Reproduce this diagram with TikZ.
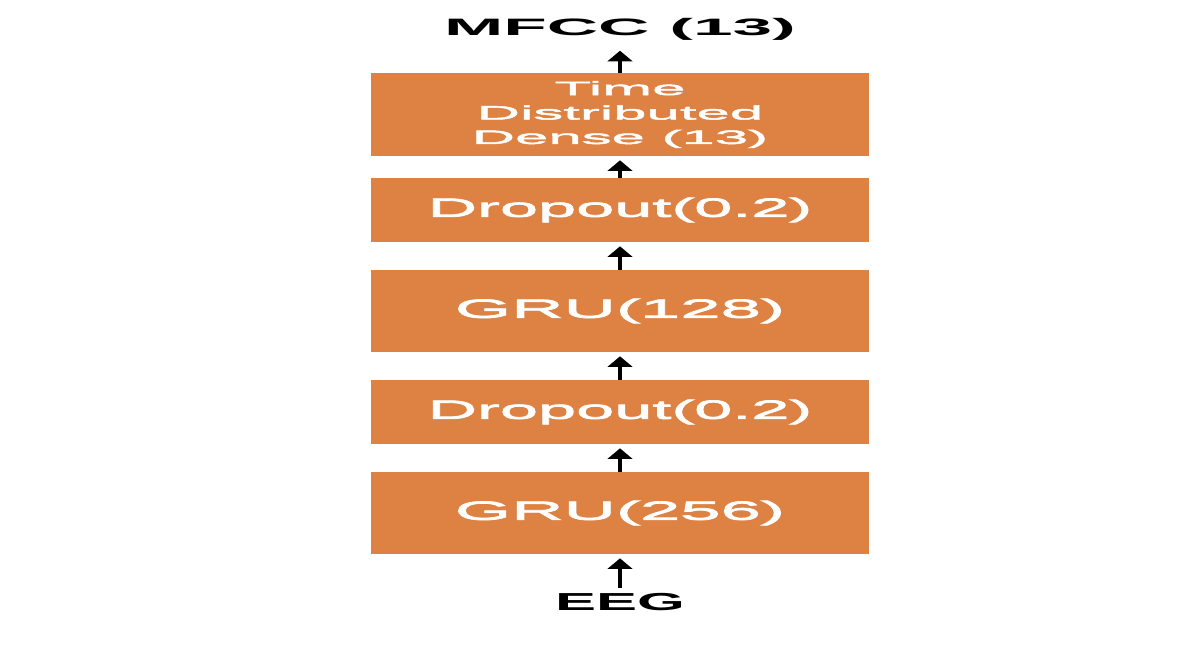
\documentclass[tikz,border=0pt]{standalone}
\usepackage{fontspec}
\usepackage{tikz}
\usetikzlibrary{positioning, arrows.meta}
\newfontfamily\grufont[FakeStretch=2.75, FakeBold=3]{Liberation Sans}
\newfontfamily\dropfont[FakeStretch=2.6, FakeBold=3]{Liberation Sans}
\newfontfamily\densefont[FakeStretch=3.1, FakeBold=2.5]{Liberation Sans}
\newfontfamily\tagfont[FakeStretch=3.0]{Liberation Sans Bold}
\newfontfamily\eegfont[FakeStretch=2.5]{Liberation Sans Bold}
\definecolor{layerorange}{RGB}{222,130,68}
\tikzstyle{arrow} = [line width=2pt,-{Triangle[width=14pt,length=6pt]},shorten >=0.08cm]
\tikzstyle{layer} = [rectangle, minimum width=9.96cm, minimum height=1.64cm, text centered, fill=layerorange, text=white, inner sep=0pt, font=\grufont\fontsize{15pt}{17pt}\selectfont]
\tikzstyle{thin layer} = [layer, minimum height=1.28cm, font=\dropfont\fontsize{15pt}{17pt}\selectfont]

\begin{document}
\begin{tikzpicture}[node distance=2.02cm]
            \useasboundingbox (0,0) rectangle (23.92,13.34);
            \node (eeg) at (12.4,1.29) [font=\eegfont\fontsize{14pt}{16pt}\selectfont] {EEG};
            \node (gru256) [layer, above of=eeg, yshift=-0.23cm] {GRU(256)};
            \node (drop1) [thin layer, above of=gru256] {Dropout(0.2)};
            \node (gru128) [layer, above of=drop1] {GRU(128)};
            \node (drop2) [thin layer, above of=gru128] {Dropout(0.2)};
            \node (dense) [layer, above of=drop2, yshift=-0.11cm, minimum height=1.66cm, align=center, font=\densefont\fontsize{11pt}{13.9pt}\selectfont]{Time\\Distributed\\Dense (13)};
            \node (mfcc) [above of=dense, yshift=-0.32cm, font=\tagfont\fontsize{13.5pt}{16pt}\selectfont] {MFCC (13)};

            \draw [arrow] (eeg) -- (gru256);
            \draw [arrow] (gru256) -- (drop1);
            \draw [arrow] (drop1) -- (gru128);
            \draw [arrow] (gru128) -- (drop2);
            \draw [arrow] (drop2) -- (dense);
            \draw [arrow] (dense) -- (mfcc);
            \end{tikzpicture}
\end{document}
